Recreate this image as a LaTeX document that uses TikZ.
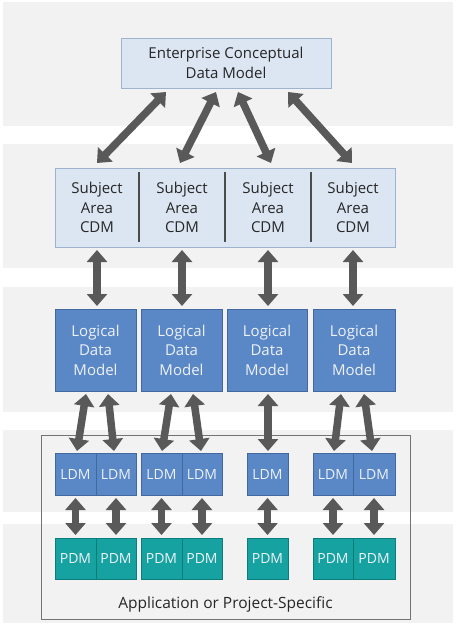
\documentclass[tikz,border=0pt]{standalone}
\usepackage{fontspec}
\setmainfont{Open Sans}
\usetikzlibrary{arrows.meta,calc}
\definecolor{band}{HTML}{F2F2F2}
\definecolor{cfill}{HTML}{DCE6F2}
\definecolor{cborder}{HTML}{9FB3CC}
\definecolor{lfill}{HTML}{5A87C5}
\definecolor{lborder}{HTML}{41699F}
\definecolor{pfill}{HTML}{17A2A2}
\definecolor{pborder}{HTML}{0F7C7C}
\definecolor{arr}{HTML}{595959}
\definecolor{txt}{HTML}{262626}
\definecolor{ltxt}{HTML}{EEF2F8}
\begin{document}
\begin{tikzpicture}[x=1pt,y=-1pt,
  cell/.style={fill=cfill, inner sep=0, outer sep=0, anchor=north west, text=txt, align=center,
    minimum height=79, font=\fontsize{15}{19.5}\selectfont},
  logic/.style={draw=lborder, fill=lfill, inner sep=0, outer sep=0, anchor=north west, text=ltxt, align=center,
    minimum height=82, font=\fontsize{15}{19.5}\selectfont},
  ldm/.style={draw=lborder, fill=lfill, inner sep=0, outer sep=0, anchor=north west, text=ltxt,
    minimum height=42, font=\fontsize{14}{17}\selectfont},
  pdm/.style={draw=pborder, fill=pfill, inner sep=0, outer sep=0, anchor=north west, text=ltxt,
    minimum height=41, font=\fontsize{14}{17}\selectfont},
  dbl/.style={draw=arr, line width=7.5pt, {Triangle[length=12pt,width=20pt]}-{Triangle[length=12pt,width=20pt]}}
]
\useasboundingbox (0,0) rectangle (456,627);
\fill[white] (0,0) rectangle (456,627);
% bands
\fill[band] (3,2) rectangle (453,126);
\fill[band] (3,144) rectangle (453,268);
\fill[band] (3,287) rectangle (453,412);
\fill[band] (3,430) rectangle (453,512);
\fill[band] (3,524) rectangle (453,623);

% application frame
\node[draw=black!55, line width=1pt, anchor=north west, minimum width=369, minimum height=184, inner sep=0, outer sep=0] (app) at (41,435) {};
\node[text=txt, font=\fontsize{15.5}{18}\selectfont] (applbl) at (225.5,604) {Application or Project-Specific};

% enterprise
\node[draw=cborder, fill=cfill, anchor=north west, minimum width=210, minimum height=50, inner sep=0, outer sep=0,
  text=txt, align=center, font=\fontsize{15}{20}\selectfont] (ent) at (121,38) {Enterprise Conceptual\\Data Model};

% subject area cells
\node[cell, minimum width=84] (sa1) at (55,168) {Subject\\Area\\CDM};
\node[cell, minimum width=86] (sa2) at (139,168) {Subject\\Area\\CDM};
\node[cell, minimum width=86] (sa3) at (225,168) {Subject\\Area\\CDM};
\node[cell, minimum width=84] (sa4) at (311,168) {Subject\\Area\\CDM};
\draw[cborder, line width=0.8pt] (sa1.north west) rectangle (sa4.south east);
\foreach \c in {sa1,sa2,sa3}
  \draw[black!70, line width=1.6pt] ($(\c.north east)+(0,4)$) -- ($(\c.south east)+(0,-5)$);

% logical
\node[logic, minimum width=81] (lg1) at (55,309) {Logical\\Data\\Model};
\node[logic, minimum width=81] (lg2) at (141,309) {Logical\\Data\\Model};
\node[logic, minimum width=80] (lg3) at (227,309) {Logical\\Data\\Model};
\node[logic, minimum width=82] (lg4) at (313,309) {Logical\\Data\\Model};

% LDM
\node[ldm, minimum width=41] (l1a) at (55,453) {LDM};
\node[ldm, minimum width=40] (l1b) at (96,453) {LDM};
\node[ldm, minimum width=41] (l2a) at (141,453) {LDM};
\node[ldm, minimum width=40] (l2b) at (182,453) {LDM};
\node[ldm, minimum width=41] (l3) at (247,453) {LDM};
\node[ldm, minimum width=40] (l4a) at (313,453) {LDM};
\node[ldm, minimum width=42] (l4b) at (353,453) {LDM};

% PDM
\node[pdm, minimum width=41] (p1a) at (55,538) {PDM};
\node[pdm, minimum width=40] (p1b) at (96,538) {PDM};
\node[pdm, minimum width=41] (p2a) at (141,538) {PDM};
\node[pdm, minimum width=40] (p2b) at (182,538) {PDM};
\node[pdm, minimum width=41] (p3) at (247,538) {PDM};
\node[pdm, minimum width=40] (p4a) at (313,538) {PDM};
\node[pdm, minimum width=42] (p4b) at (353,538) {PDM};

% arrows enterprise <-> subject
\draw[dbl] ($(ent.south)+(-60,4)$) -- ($(sa1.north)+(0,-5)$);
\draw[dbl] ($(ent.south)+(-10,4)$) -- ($(sa2.north)+(-2,-5)$);
\draw[dbl] ($(ent.south)+(12,4)$) -- ($(sa3.north)+(3,-5)$);
\draw[dbl] ($(ent.south)+(62,4)$) -- ($(sa4.north)+(-1,-5)$);

% subject <-> logical
\foreach \s/\l in {sa1/lg1,sa2/lg2,sa3/lg3,sa4/lg4}
  \draw[dbl] ($(\s.south)+(0,3)$) -- ($(\s.south|-\l.north)+(0,-3)$);

% logical <-> LDM
\draw[dbl] ($(lg1.south)+(-9.5,3)$) -- ($(l1a.north)+(1.5,-2)$);
\draw[dbl] ($(lg1.south)+(12.5,3)$) -- ($(l1b.north)+(-2,-2)$);
\draw[dbl] ($(lg2.south)+(-10.5,3)$) -- ($(l2a.north)+(0.5,-2)$);
\draw[dbl] ($(lg2.south)+(11.5,3)$) -- ($(l2b.north)+(-1,-2)$);
\draw[dbl] ($(lg3.south)+(1,3)$) -- ($(l3.north)+(0.5,-2)$);
\draw[dbl] ($(lg4.south)+(-13,3)$) -- ($(l4a.north)+(1,-2)$);
\draw[dbl] ($(lg4.south)+(10,3)$) -- ($(l4b.north)+(-2,-2)$);

% LDM <-> PDM
\foreach \a/\b in {l1a/p1a,l1b/p1b,l2a/p2a,l2b/p2b,l3/p3,l4a/p4a,l4b/p4b}
  \draw[dbl] ($(\a.south)+(0,3)$) -- ($(\b.north)+(0,-3)$);
\end{tikzpicture}
\end{document}
